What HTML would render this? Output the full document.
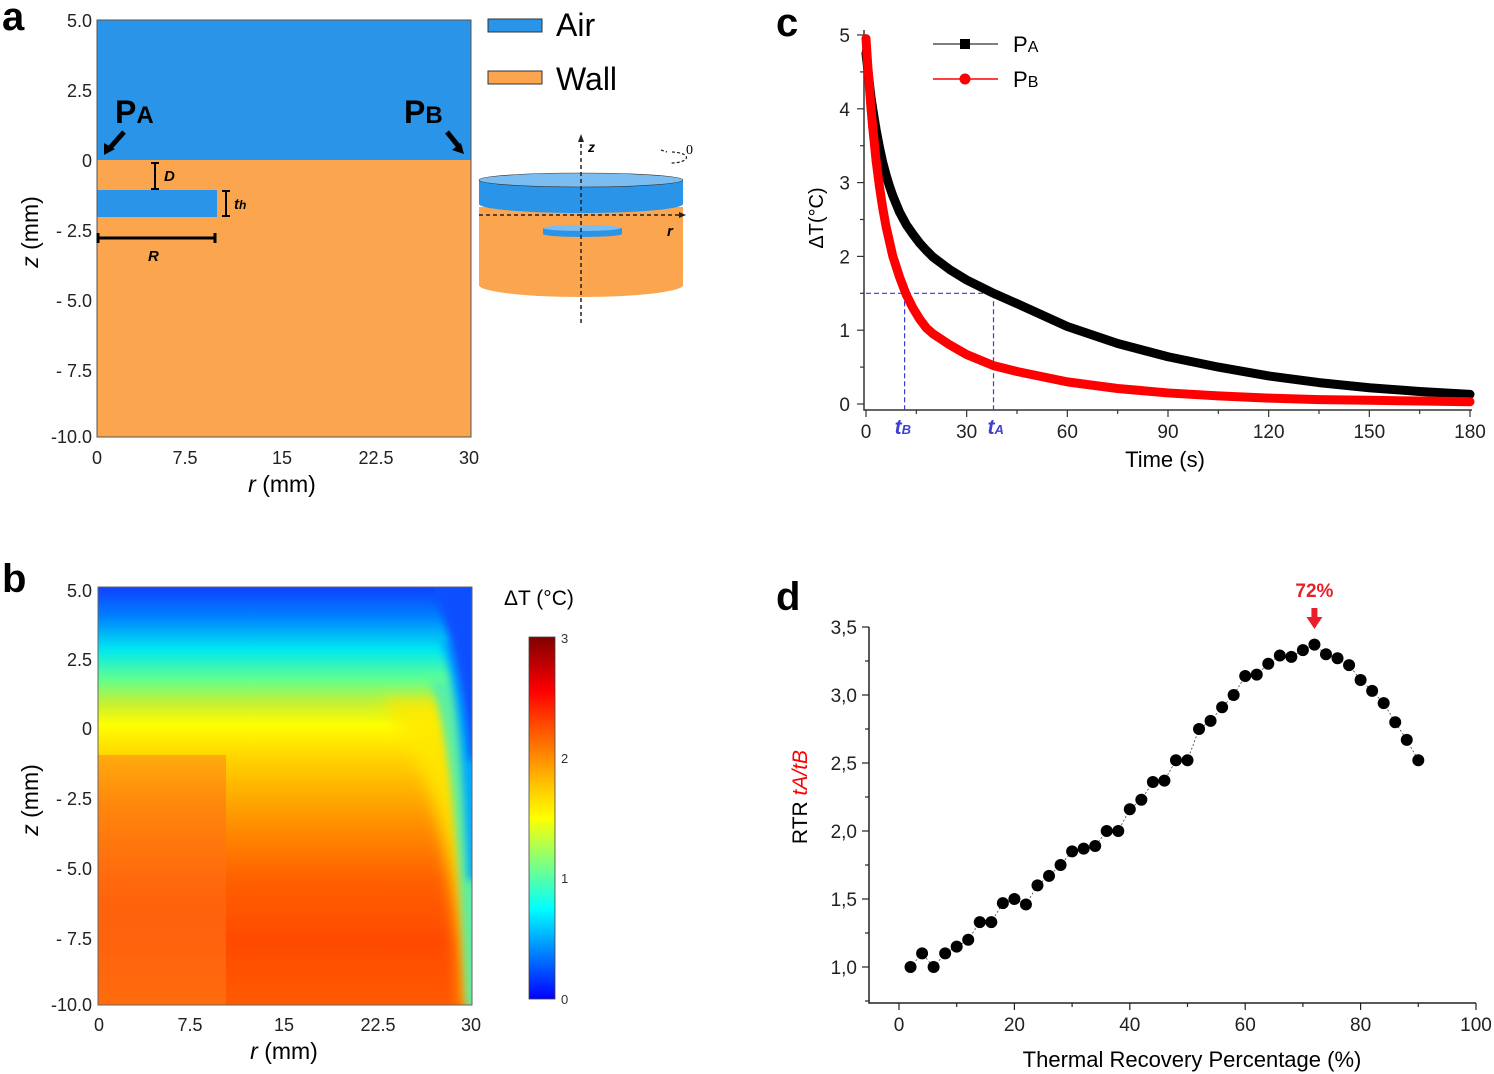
<!DOCTYPE html>
<html><head><meta charset="utf-8"><style>
html,body{margin:0;padding:0;background:#fff;}
svg{display:block;font-family:"Liberation Sans",Arial,sans-serif;}
</style></head><body>
<svg id="fig" width="1494" height="1074" viewBox="0 0 1494 1074" xmlns="http://www.w3.org/2000/svg">
<defs>
<linearGradient id="heatV" x1="0" y1="0" x2="0" y2="1">
<stop offset="0" stop-color="#1040ff"/><stop offset="0.07" stop-color="#0080ff"/><stop offset="0.15" stop-color="#00e8f0"/>
<stop offset="0.22" stop-color="#60ff90"/><stop offset="0.28" stop-color="#c8f030"/><stop offset="0.33" stop-color="#ffff00"/>
<stop offset="0.40" stop-color="#ffd800"/><stop offset="0.48" stop-color="#ffb400"/><stop offset="0.58" stop-color="#ff8a00"/>
<stop offset="0.70" stop-color="#ff6000"/><stop offset="0.85" stop-color="#ff4a00"/><stop offset="1" stop-color="#ff5a00"/>
</linearGradient>
<linearGradient id="blockV" x1="0" y1="0" x2="0" y2="1">
<stop offset="0" stop-color="#ffa010"/><stop offset="0.2" stop-color="#ff8010"/><stop offset="0.6" stop-color="#ff6510"/><stop offset="1" stop-color="#ff7010"/>
</linearGradient>
<linearGradient id="jet" x1="0" y1="1" x2="0" y2="0">
<stop offset="0" stop-color="#0000ff"/><stop offset="0.25" stop-color="#00ffff"/><stop offset="0.5" stop-color="#ffff00"/>
<stop offset="0.58" stop-color="#ffcc00"/><stop offset="0.75" stop-color="#ff5000"/><stop offset="0.85" stop-color="#ff0000"/><stop offset="1" stop-color="#800000"/>
</linearGradient>
<filter id="blur8" x="-20%" y="-20%" width="140%" height="140%"><feGaussianBlur stdDeviation="8"/></filter>
<filter id="blur4" x="-20%" y="-20%" width="140%" height="140%"><feGaussianBlur stdDeviation="4"/></filter>
<clipPath id="heatClip"><rect x="98" y="587" width="374" height="418"/></clipPath>
</defs>

<g>
<text x="2" y="30" font-size="40" font-weight="bold">a</text>
<rect x="97" y="20" width="374" height="140" fill="#2a95e8"/>
<rect x="97" y="160" width="374" height="277" fill="#fca54f"/>
<rect x="97" y="190" width="120" height="27" fill="#2a95e8"/>
<rect x="97" y="20" width="374" height="417" fill="none" stroke="#555" stroke-width="1"/>
<g font-size="18" fill="#222" text-anchor="end">
<text x="92" y="27">5.0</text><text x="92" y="97">2.5</text><text x="92" y="167">0</text><text x="92" y="237">- 2.5</text>
<text x="92" y="307">- 5.0</text><text x="92" y="377">- 7.5</text><text x="92" y="443">-10.0</text></g>
<g font-size="18" fill="#222" text-anchor="middle">
<text x="97" y="464">0</text><text x="185" y="464">7.5</text><text x="282" y="464">15</text><text x="376" y="464">22.5</text><text x="469" y="464">30</text></g>
<text x="282" y="492" font-size="23" text-anchor="middle"><tspan font-style="italic">r</tspan> (mm)</text>
<text transform="translate(38,232) rotate(-90)" font-size="23" text-anchor="middle"><tspan font-style="italic">z</tspan> (mm)</text>
<text x="115" y="123" font-size="32" font-weight="bold">P<tspan font-size="24">A</tspan></text>
<text x="404" y="123" font-size="32" font-weight="bold">P<tspan font-size="24">B</tspan></text>
<path d="M124,132 L108,150" stroke="#000" stroke-width="5"/>
<polygon points="104,155 104,143 115,149" fill="#000"/>
<path d="M447,132 L460,148" stroke="#000" stroke-width="5"/>
<polygon points="464,154 452,150 461,143" fill="#000"/>
<path d="M155,163 V189 M151,163 H159 M151,189 H159" stroke="#000" stroke-width="2"/>
<text x="164" y="181" font-size="15" font-style="italic" font-weight="bold">D</text>
<path d="M226,191 V216 M222,191 H230 M222,216 H230" stroke="#000" stroke-width="2"/>
<text x="234" y="209" font-size="15" font-style="italic" font-weight="bold">t<tspan font-size="12">h</tspan></text>
<path d="M98,238 H215 M98,233 V243 M215,233 V243" stroke="#000" stroke-width="3"/>
<text x="148" y="261" font-size="15" font-style="italic" font-weight="bold">R</text>
<rect x="488" y="19" width="54" height="13" fill="#2a95e8" stroke="#333"/>
<text x="556" y="36" font-size="32">Air</text>
<rect x="488" y="71" width="54" height="13" fill="#fca54f" stroke="#333"/>
<text x="556" y="90" font-size="32">Wall</text>
<g>
<path d="M479,207 V285 A102,12 0 0 0 683,285 V207 Z" fill="#fca54f"/>
<path d="M479,180 V204 A102,9 0 0 0 683,204 V180 Z" fill="#2a95e8"/>
<ellipse cx="581" cy="180" rx="102" ry="7" fill="#7bbdf0" stroke="#333" stroke-width="0.6"/>
<path d="M543,228 V234 A39,3 0 0 0 622,234 V228 Z" fill="#2a95e8"/>
<ellipse cx="582" cy="228" rx="39" ry="3" fill="#7bbdf0"/>
<path d="M581,323 V140" stroke="#222" stroke-width="1.5" stroke-dasharray="4,3"/>
<polygon points="578,142 584,142 581,134" fill="#222"/>
<path d="M479,215 H680" stroke="#222" stroke-width="1.5" stroke-dasharray="4,3"/>
<polygon points="679,212 679,218 686,215" fill="#222"/>
<text x="588" y="152" font-size="14" font-weight="bold" font-style="italic">z</text>
<text x="667" y="236" font-size="15" font-weight="bold" font-style="italic">r</text>
<text x="686" y="154" font-size="14" font-family="Liberation Serif,serif">0</text>
<path d="M672,152 A14,5 0 1 1 670,163 M661,150 L667,152" fill="none" stroke="#222" stroke-width="1.2" stroke-dasharray="3,2"/>
</g>
</g>

<g>
<text x="2" y="592" font-size="40" font-weight="bold">b</text>
<g clip-path="url(#heatClip)">
<rect x="98" y="587" width="374" height="418" fill="url(#heatV)"/>
<rect x="98" y="755" width="128" height="250" fill="url(#blockV)" opacity="0.8"/>
<path d="M380,700 C430,760 455,850 464,1010 L490,1010 L490,700 Z" fill="#ffe800" opacity="0.85" filter="url(#blur8)"/>
<path d="M430,680 C448,730 458,820 466,1010 L490,1010 L490,680 Z" fill="#50f0b0" opacity="0.9" filter="url(#blur4)"/>
<path d="M440,640 C455,680 462,740 468,880 L490,880 L490,640 Z" fill="#00a8ff" filter="url(#blur4)"/>
<path d="M420,560 C450,620 464,690 470,760 L490,760 L490,560 Z" fill="#0a50ff" filter="url(#blur4)"/>
</g>
<rect x="98" y="587" width="374" height="418" fill="none" stroke="#666" stroke-width="1"/>
<g font-size="18" fill="#222" text-anchor="end">
<text x="92" y="597">5.0</text><text x="92" y="666">2.5</text><text x="92" y="735">0</text><text x="92" y="805">- 2.5</text>
<text x="92" y="875">- 5.0</text><text x="92" y="945">- 7.5</text><text x="92" y="1011">-10.0</text></g>
<g font-size="18" fill="#222" text-anchor="middle">
<text x="99" y="1031">0</text><text x="190" y="1031">7.5</text><text x="284" y="1031">15</text><text x="378" y="1031">22.5</text><text x="471" y="1031">30</text></g>
<text x="284" y="1059" font-size="23" text-anchor="middle"><tspan font-style="italic">r</tspan> (mm)</text>
<text transform="translate(38,800) rotate(-90)" font-size="23" text-anchor="middle"><tspan font-style="italic">z</tspan> (mm)</text>
<text x="504" y="605" font-size="21">ΔT (°C)</text>
<rect x="529" y="637" width="26" height="362" fill="url(#jet)" stroke="#444" stroke-width="0.8"/>
<g font-size="13" fill="#333">
<text x="561" y="643">3</text><text x="561" y="763">2</text><text x="561" y="883">1</text><text x="561" y="1004">0</text></g>
</g>

<g id="panelC">
<text x="776" y="36" font-size="40" font-weight="bold">c</text>
</g>
<g id="panelD">
<text x="776" y="610" font-size="40" font-weight="bold">d</text>
</g>
</svg>
<script>
const NS='http://www.w3.org/2000/svg';
// Panel c data
const timeS=[0,0.5,1,1.5,2,3,4,5,6,7,8,10,12,14,16,18,20,25,30,38,45,60,75,90,105,120,135,150,165,180];
const seriesPA=[4.75,4.55,4.35,4.15,4.0,3.72,3.48,3.27,3.1,2.95,2.82,2.6,2.43,2.3,2.18,2.08,1.99,1.82,1.68,1.5,1.36,1.05,0.82,0.64,0.5,0.38,0.29,0.22,0.17,0.13];
const seriesPB=[4.95,4.6,4.3,4.0,3.75,3.3,2.95,2.65,2.4,2.2,2.0,1.72,1.48,1.3,1.15,1.03,0.95,0.8,0.67,0.52,0.44,0.3,0.21,0.15,0.11,0.08,0.06,0.05,0.04,0.03];
const cXTicks=[0,30,60,90,120,150,180];
const cYTicks=[0,1,2,3,4,5];
const thresholdC=[1.5];
const tMarks=[11.5,38];
// Panel d data
const recoveryPct=[2,4,6,8,10,12,14,16,18,20,22,24,26,28,30,32,34,36,38,40,42,44,46,48,50,52,54,56,58,60,62,64,66,68,70,72,74,76,78,80,82,84,86,88,90];
const rtrValues=[1.00,1.10,1.00,1.10,1.15,1.20,1.33,1.33,1.47,1.50,1.46,1.60,1.67,1.75,1.85,1.87,1.89,2.00,2.00,2.16,2.23,2.36,2.37,2.52,2.52,2.75,2.81,2.91,3.00,3.14,3.15,3.23,3.29,3.28,3.33,3.37,3.30,3.27,3.22,3.11,3.03,2.94,2.80,2.67,2.52];
const dXTicks=[0,20,40,60,80,100];
const dYTicks=[1.0,1.5,2.0,2.5,3.0,3.5];
const peakPct=[72];

function mk(tag,attrs,parent,text){const e=document.createElementNS(NS,tag);for(const k in attrs)e.setAttribute(k,attrs[k]);if(text!==undefined)e.textContent=text;parent.appendChild(e);return e;}

const gc=document.getElementById('panelC');
const cx=t=>866+t*(1470-866)/180;
const cy=v=>404-v*73.8;
let ax=mk('path',{d:'M864,30 V410 H1472',fill:'none',stroke:'#333','stroke-width':1.5},gc);

for(let v=0;v<=5;v+=0.5){mk('path',{d:`M864,${cy(v)} H${v%1===0?857:860}`,stroke:'#333','stroke-width':1.2},gc);}
cYTicks.forEach(v=>{const t=mk('text',{x:850,y:cy(v)+7,'font-size':19,'text-anchor':'end',fill:'#222'},gc,String(v));});
for(let s=0;s<=180;s+=15){mk('path',{d:`M${cx(s)},410 V${s%30===0?417:414}`,stroke:'#333','stroke-width':1.2},gc);}
cXTicks.forEach(v=>{const t=mk('text',{x:cx(v),y:438,'font-size':19,'text-anchor':'middle',fill:'#222'},gc,String(v));});
let xt=mk('text',{x:1165,y:467,'font-size':22,'text-anchor':'middle'},gc,'Time (s)');
let yt=mk('text',{transform:'translate(823,218) rotate(-90)','font-size':20,'text-anchor':'middle'},gc,'ΔT(°C)');
const hy=cy(thresholdC[0]);
let hl=mk('path',{d:`M866,${hy} H${cx(tMarks[1])} M${cx(tMarks[0])},${hy} V410 M${cx(tMarks[1])},${hy} V410`,stroke:'#3a3ad8','stroke-width':1.2,'stroke-dasharray':'5,3',fill:'none'},gc);

let tb=mk('text',{x:cx(tMarks[0])-10,y:434,'font-size':21,'font-weight':'bold','font-style':'italic',fill:'#4040d0'},gc,'t');mk('tspan',{'font-size':13},tb,'B');

let ta=mk('text',{x:cx(tMarks[1])-6,y:434,'font-size':21,'font-weight':'bold','font-style':'italic',fill:'#4040d0'},gc,'t');mk('tspan',{'font-size':13},ta,'A');

function drawSeries(vals,color,name,marker){
  const pts=timeS.map((t,i)=>cx(t)+','+cy(vals[i])).join(' ');
  const pl=mk('polyline',{points:pts,fill:'none',stroke:color,'stroke-width':9,'stroke-linejoin':'round','stroke-linecap':'round'},gc);
  
  for(let i=0;i<6;i++){
    let m;
    if(marker==='sq') m=mk('rect',{x:cx(timeS[i])-4,y:cy(vals[i])-4,width:8,height:8,fill:color},gc);
    else m=mk('circle',{cx:cx(timeS[i]),cy:cy(vals[i]),r:4.5,fill:color},gc);
    
  }
}
drawSeries(seriesPA,'#000','series-pa','sq');
drawSeries(seriesPB,'#f00','series-pb','ci');
let lg=mk('g',{},gc);
mk('path',{d:'M933,44 H998',stroke:'#555','stroke-width':1.5},lg);mk('rect',{x:960,y:39,width:10,height:10,fill:'#000'},lg);
let l1=mk('text',{x:1013,y:52,'font-size':22},lg,'P');mk('tspan',{'font-size':16},l1,'A');
mk('path',{d:'M933,79 H998',stroke:'#f00','stroke-width':1.5},lg);mk('circle',{cx:965,cy:79,r:5.5,fill:'#f00'},lg);
let l2=mk('text',{x:1013,y:87,'font-size':22},lg,'P');mk('tspan',{'font-size':16},l2,'B');

const gd=document.getElementById('panelD');
const dx=p=>899+p*5.77;
const dy=v=>967-(v-1)*136;
let axd=mk('path',{d:'M869,627 V1003 H1476',fill:'none',stroke:'#222','stroke-width':1.5},gd);

for(let v=0.75;v<=3.5001;v+=0.25){mk('path',{d:`M869,${dy(v)} H${Math.abs(v*2-Math.round(v*2))<0.01?862:865}`,stroke:'#222','stroke-width':1.2},gd);}
dYTicks.forEach(v=>{const t=mk('text',{x:857,y:dy(v)+7,'font-size':19,'text-anchor':'end',fill:'#222'},gd,v.toFixed(1).replace('.',','));});
for(let p=0;p<=100;p+=10){mk('path',{d:`M${dx(p)},1003 V${p%20===0?1010:1007}`,stroke:'#222','stroke-width':1.2},gd);}
dXTicks.forEach(v=>{const t=mk('text',{x:dx(v),y:1031,'font-size':19,'text-anchor':'middle',fill:'#222'},gd,String(v));});
let xtd=mk('text',{x:1192,y:1067,'font-size':22,'text-anchor':'middle'},gd,'Thermal Recovery Percentage (%)');
let ytd=mk('text',{transform:'translate(807,797) rotate(-90)','font-size':21,'text-anchor':'middle'},gd,'RTR  ');
mk('tspan',{fill:'#f00','font-style':'italic'},ytd,'tA/tB');

let ln=mk('polyline',{points:recoveryPct.map((p,i)=>dx(p)+','+dy(rtrValues[i])).join(' '),fill:'none',stroke:'#444','stroke-width':0.8,'stroke-dasharray':'2,2'},gd);

recoveryPct.forEach((p,i)=>{const c=mk('circle',{cx:dx(p),cy:dy(rtrValues[i]),r:6,fill:'#000'},gd);});
const pk=dx(peakPct[0]);
let pkT=mk('text',{x:pk,y:597,'font-size':19,'font-weight':'bold',fill:'#e8202a','text-anchor':'middle'},gd,peakPct[0]+'%');

let pkA=mk('path',{d:`M${pk-3},608 h6 v9 h5 l-8,12 l-8,-12 h5 z`,fill:'#e8202a'},gd);

</script>
</body></html>
